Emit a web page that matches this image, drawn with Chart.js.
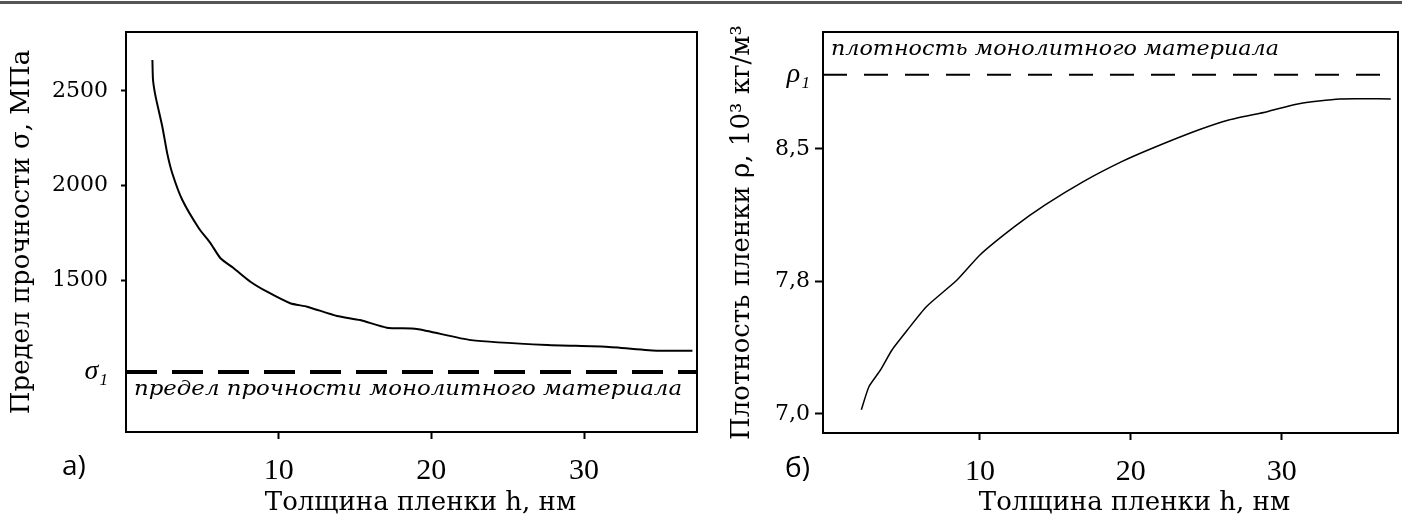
<!DOCTYPE html>
<html>
<head>
<meta charset="utf-8">
<script src="https://cdn.jsdelivr.net/npm/chart.js@4.4.1/dist/chart.umd.min.js"></script>
<style>
  body { margin: 0; background: #fff; width: 1402px; height: 519px; overflow: hidden; position: relative; }
  #topline { position: absolute; left: 0; top: 1px; width: 1402px; height: 3px; background: #555; }
  #wrapA { position: absolute; left: 0; top: 0; }
  #wrapB { position: absolute; left: 705px; top: 0; }
  .part { position: absolute; font-family: "Open Sans", sans-serif; font-size: 28px; line-height: 1; color: #000; }
</style>
</head>
<body>
<div id="topline"></div>
<div id="wrapA"><canvas id="chartA" width="705" height="519"></canvas></div>
<div id="wrapB"><canvas id="chartB" width="697" height="519"></canvas></div>
<div class="part" style="left:62px; top:450px;">a)</div>
<div class="part" style="left:785px; top:452px;">б)</div>

<script>
// a) strength vs thickness
const thickA = [1.73, 1.77, 1.94, 2.38, 2.7, 3.03, 3.69, 4.77, 5.54, 6.19, 7.06, 8.15, 9.24, 10.76, 11.86, 13.82, 15.34, 17.08, 19.05, 22.6, 27.6, 31.4, 34.9, 37.1];
const strength = [2664, 2558, 2470, 2311, 2170, 2065, 1923, 1774, 1694, 1615, 1562, 1491, 1438, 1377, 1359, 1310, 1288, 1248, 1241, 1182, 1156, 1147, 1126, 1126];
const sigma1 = 1013;
const yTicksA = [1500, 2000, 2500];

// б) density vs thickness
const thickB = [2.14, 2.65, 3.41, 4.17, 5.19, 6.45, 8.48, 10.0, 12.29, 14.32, 16.85, 19.39, 21.42, 24.47, 26.49, 29.03, 31.06, 33.84, 37.22];
const density = [7.023, 7.155, 7.249, 7.362, 7.475, 7.607, 7.758, 7.9, 8.06, 8.183, 8.315, 8.428, 8.504, 8.607, 8.664, 8.711, 8.755, 8.783, 8.783];
const rho1 = 8.92;
const yTicksB = [7.0, 7.75, 8.5];
const yLabelsB = ['7,0', '7,8', '8,5'];

const xTicks = [10, 20, 30];
const xTitle = 'Толщина пленки h, нм';

const serif = 'DejaVu Serif';

// box round the plot, italic note near the dashed line, x title
const framePlugin = {
    id: 'frame',
    afterDatasetsDraw(chart, args, opts) {
        const ctx = chart.ctx;
        const a = chart.chartArea;
        ctx.save();
        ctx.strokeStyle = '#000';
        ctx.lineWidth = 2;
        ctx.strokeRect(a.left, a.top, a.right - a.left, a.bottom - a.top);

        ctx.fillStyle = '#000';
        ctx.textAlign = 'center';
        ctx.textBaseline = 'middle';
        ctx.font = '26px "' + serif + '"';
        ctx.fillText(xTitle, (a.left + a.right) / 2 + opts.titleDx, 503);

        if (opts.note) {
            const y = chart.scales.y.getPixelForValue(opts.noteAt) + opts.noteDy;
            ctx.font = 'italic 21px "' + serif + '"';
            ctx.textAlign = 'left';
            const w = ctx.measureText(opts.note).width;
            ctx.translate(a.left + 8, y);
            ctx.scale(opts.noteWidth / w, 1);
            ctx.fillText(opts.note, 0, 0);
        }
        ctx.restore();
    }
};

function points(xs, ys) {
    return xs.map((x, i) => ({ x: x, y: ys[i] }));
}

function makeChart(id, o) {
    const el = document.getElementById(id);
    return new Chart(el.getContext('2d'), {
        type: 'line',
        data: {
            datasets: [
                {
                    data: points(o.xs, o.ys),
                    borderColor: '#000',
                    borderWidth: o.curveWidth,
                    pointRadius: 0,
                    tension: 0.2
                },
                {
                    data: [{ x: o.xMin, y: o.level }, { x: o.xMax, y: o.level }],
                    borderColor: '#000',
                    borderWidth: o.dashWidth,
                    borderDash: o.dash,
                    pointRadius: 0
                }
            ]
        },
        options: {
            responsive: false,
            animation: false,
            layout: { padding: { top: 32, right: o.padRight, left: 0, bottom: 0 } },
            plugins: {
                legend: { display: false },
                tooltip: { enabled: false },
                frame: { note: o.note, noteAt: o.level, noteDy: o.noteDy, noteWidth: o.noteWidth, titleDx: o.titleDx }
            },
            scales: {
                x: {
                    type: 'linear',
                    min: o.xMin,
                    max: o.xMax,
                    afterBuildTicks: s => { s.ticks = xTicks.map(v => ({ value: v })); },
                    ticks: { color: '#000', padding: 14, maxRotation: 0, font: { family: 'Liberation Serif', size: 30 } },
                    grid: { drawOnChartArea: false, tickLength: 7, tickColor: '#000', tickWidth: 2 },
                    border: { display: false },
                    afterFit: s => { s.height = 519 - o.bottom; }
                },
                y: {
                    type: 'linear',
                    min: o.yMin,
                    max: o.yMax,
                    afterBuildTicks: s => { s.ticks = o.yTicks.concat([o.level]).map(v => ({ value: v })); },
                    ticks: {
                        color: '#000',
                        autoSkip: false,
                        padding: o.tickPad,
                        font: c => (c.tick && c.tick.value === o.level)
                            ? { family: 'Liberation Serif', size: 28, style: 'italic' }
                            : { family: serif, size: 22 },
                        callback: (v, i) => v === o.level ? o.levelLabel : o.yLabels[i]
                    },
                    grid: {
                        drawOnChartArea: false,
                        tickLength: o.tickLen,
                        tickWidth: 2,
                        tickColor: c => (c.tick && c.tick.value === o.level) ? 'rgba(0,0,0,0)' : '#000'
                    },
                    border: { display: false },
                    title: {
                        display: true, text: o.yTitle, color: '#000',
                        font: { family: serif, size: 26 }, padding: { top: o.titlePad, bottom: 0 }
                    },
                    afterFit: s => { s.width = o.left; }
                }
            }
        },
        plugins: [framePlugin]
    });
}

makeChart('chartA', {
    xs: thickA, ys: strength, curveWidth: 2,
    level: sigma1, levelLabel: 'σ₁', dash: [31, 15], dashWidth: 4,
    xMin: 0, xMax: 37.4, yMin: 696, yMax: 2812,
    yTicks: yTicksA, yLabels: yTicksA.map(String),
    left: 126, bottom: 432, padRight: 8, tickLen: 5, tickPad: 13, titlePad: 7, titleDx: 9,
    yTitle: 'Предел прочности σ, МПа',
    note: 'предел прочности монолитного материала', noteDy: 17, noteWidth: 548
});

makeChart('chartB', {
    xs: thickB, ys: density, curveWidth: 1.5,
    level: rho1, levelLabel: 'ρ₁', dash: [24, 17], dashWidth: 2,
    xMin: -0.4, xMax: 37.7, yMin: 6.892, yMax: 9.162,
    yTicks: yTicksB, yLabels: yLabelsB,
    left: 118, bottom: 433, padRight: 4, tickLen: 8, tickPad: 5, titlePad: 22, titleDx: 24,
    yTitle: 'Плотность пленки ρ, 10³ кг/м³',
    note: 'плотность монолитного материала', noteDy: -25, noteWidth: 448
});
</script>
</body>
</html>
